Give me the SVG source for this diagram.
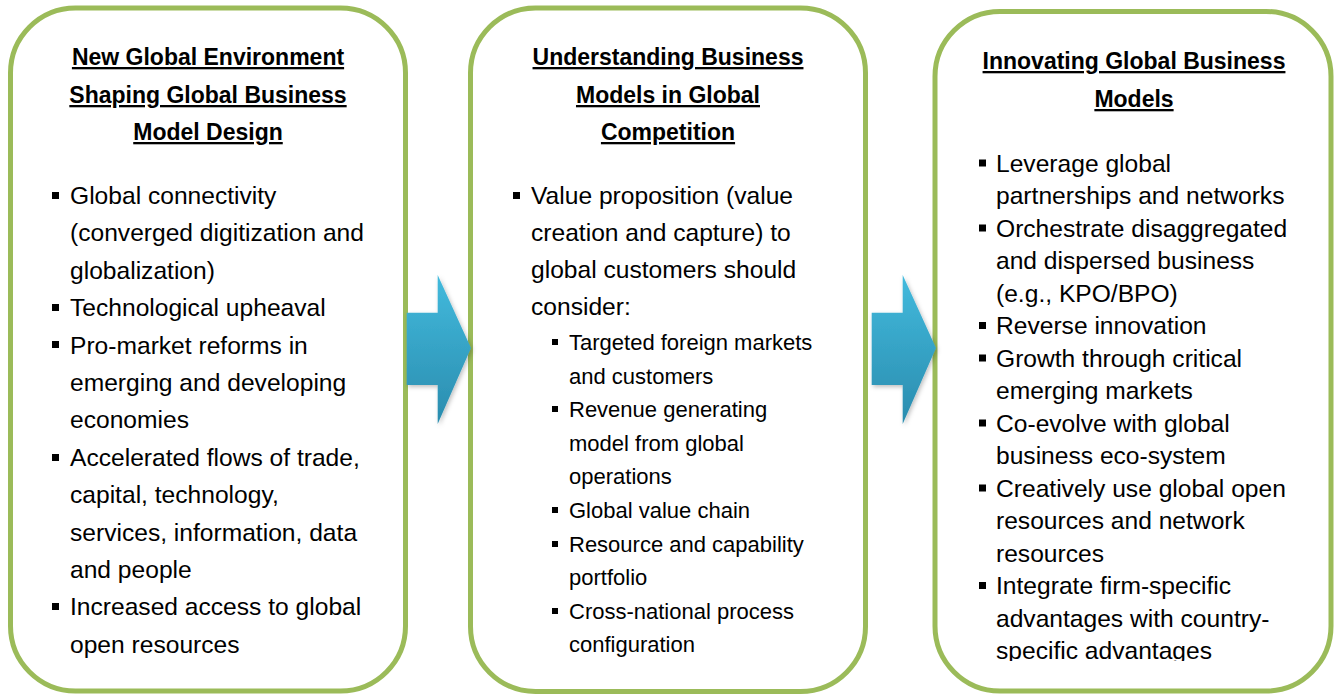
<svg xmlns="http://www.w3.org/2000/svg" width="1335" height="695" viewBox="0 0 1335 695">
  <defs>
    <linearGradient id="arrowGrad" x1="0" y1="0" x2="0" y2="1">
      <stop offset="0" stop-color="#42BADD"/>
      <stop offset="1" stop-color="#2A8CAE"/>
    </linearGradient>
    <filter id="shadow" x="-20%" y="-20%" width="140%" height="140%">
      <feDropShadow dx="1.5" dy="2" stdDeviation="2" flood-color="#000" flood-opacity="0.25"/>
    </filter>
    <clipPath id="clip3">
      <rect x="935" y="0" width="400" height="661"/>
    </clipPath>
  </defs>
  <style>
    .box { fill: #FFFFFF; stroke: #9BBB59; stroke-width: 5; }
    .title { font-family: "Liberation Sans", Arial, sans-serif; font-weight: bold; font-size: 23px; fill: #000; text-anchor: middle; text-decoration: underline; }
    .txt { font-family: "Liberation Sans", Arial, sans-serif; font-size: 24.6px; fill: #000; }
    .sub { font-family: "Liberation Sans", Arial, sans-serif; font-size: 22px; fill: #000; }
    .bul { fill: #000; }
    .arrow { fill: url(#arrowGrad); filter: url(#shadow); }
  </style>

  <g id="box1">
    <rect class="box" x="10.5" y="8" width="395" height="683" rx="65" ry="65"/>
    <text class="title" x="208" y="65">New Global Environment</text>
    <text class="title" x="208" y="103">Shaping Global Business</text>
    <text class="title" x="208" y="140">Model Design</text>
    <rect class="bul" x="52" y="192" width="7" height="7"/>
    <text class="txt" x="70" y="204">Global connectivity</text>
    <text class="txt" x="70" y="241.4">(converged digitization and</text>
    <text class="txt" x="70" y="278.8">globalization)</text>
    <rect class="bul" x="52" y="304" width="7" height="7"/>
    <text class="txt" x="70" y="316.2">Technological upheaval</text>
    <rect class="bul" x="52" y="341" width="7" height="7"/>
    <text class="txt" x="70" y="353.6">Pro-market reforms in</text>
    <text class="txt" x="70" y="391">emerging and developing</text>
    <text class="txt" x="70" y="428.4">economies</text>
    <rect class="bul" x="52" y="454" width="7" height="7"/>
    <text class="txt" x="70" y="465.8">Accelerated flows of trade,</text>
    <text class="txt" x="70" y="503.2">capital, technology,</text>
    <text class="txt" x="70" y="540.6">services, information, data</text>
    <text class="txt" x="70" y="578">and people</text>
    <rect class="bul" x="52" y="603" width="7" height="7"/>
    <text class="txt" x="70" y="615.4">Increased access to global</text>
    <text class="txt" x="70" y="652.8">open resources</text>
  </g>

  <g id="box2">
    <rect class="box" x="470.5" y="8" width="395" height="683.5" rx="65" ry="65"/>
    <text class="title" x="668" y="65">Understanding Business</text>
    <text class="title" x="668" y="103">Models in Global</text>
    <text class="title" x="668" y="140">Competition</text>
    <rect class="bul" x="513" y="192" width="7" height="7"/>
    <text class="txt" x="531" y="204">Value proposition (value</text>
    <text class="txt" x="531" y="241">creation and capture) to</text>
    <text class="txt" x="531" y="278">global customers should</text>
    <text class="txt" x="531" y="315">consider:</text>
    <rect class="bul" x="552" y="339" width="6" height="6"/>
    <text class="sub" x="569" y="350">Targeted foreign markets</text>
    <text class="sub" x="569" y="383.6">and customers</text>
    <rect class="bul" x="552" y="406" width="6" height="6"/>
    <text class="sub" x="569" y="417.2">Revenue generating</text>
    <text class="sub" x="569" y="450.8">model from global</text>
    <text class="sub" x="569" y="484.4">operations</text>
    <rect class="bul" x="552" y="507" width="6" height="6"/>
    <text class="sub" x="569" y="518">Global value chain</text>
    <rect class="bul" x="552" y="541" width="6" height="6"/>
    <text class="sub" x="569" y="551.6">Resource and capability</text>
    <text class="sub" x="569" y="585.2">portfolio</text>
    <rect class="bul" x="552" y="608" width="6" height="6"/>
    <text class="sub" x="569" y="618.8">Cross-national process</text>
    <text class="sub" x="569" y="652.4">configuration</text>
  </g>

  <g id="box3">
    <rect class="box" x="935" y="11.5" width="396" height="679.5" rx="65" ry="65"/>
    <text class="title" x="1134" y="69">Innovating Global Business</text>
    <text class="title" x="1134" y="107">Models</text>
    <g clip-path="url(#clip3)">
      <rect class="bul" x="979" y="159.5" width="7" height="7"/>
      <text class="txt" x="996" y="171.5">Leverage global</text>
      <text class="txt" x="996" y="204">partnerships and networks</text>
      <rect class="bul" x="979" y="224.5" width="7" height="7"/>
      <text class="txt" x="996" y="236.5">Orchestrate disaggregated</text>
      <text class="txt" x="996" y="269">and dispersed business</text>
      <text class="txt" x="996" y="301.5">(e.g., KPO/BPO)</text>
      <rect class="bul" x="979" y="322" width="7" height="7"/>
      <text class="txt" x="996" y="334">Reverse innovation</text>
      <rect class="bul" x="979" y="354.5" width="7" height="7"/>
      <text class="txt" x="996" y="366.5">Growth through critical</text>
      <text class="txt" x="996" y="399">emerging markets</text>
      <rect class="bul" x="979" y="419.5" width="7" height="7"/>
      <text class="txt" x="996" y="431.5">Co-evolve with global</text>
      <text class="txt" x="996" y="464">business eco-system</text>
      <rect class="bul" x="979" y="484.5" width="7" height="7"/>
      <text class="txt" x="996" y="496.5">Creatively use global open</text>
      <text class="txt" x="996" y="529">resources and network</text>
      <text class="txt" x="996" y="561.5">resources</text>
      <rect class="bul" x="979" y="582" width="7" height="7"/>
      <text class="txt" x="996" y="594">Integrate firm-specific</text>
      <text class="txt" x="996" y="626.5">advantages with country-</text>
      <text class="txt" x="996" y="659">specific advantages</text>
    </g>
  </g>

  <g id="connectors">
    <polygon class="arrow" points="406.7,312.7 437.7,312.7 437.7,275 471,348 437.7,424 437.7,385 406.7,385"/>
    <polygon class="arrow" points="871.7,312.7 902.7,312.7 902.7,275 936,348 902.7,424 902.7,385 871.7,385"/>
  </g>
</svg>
